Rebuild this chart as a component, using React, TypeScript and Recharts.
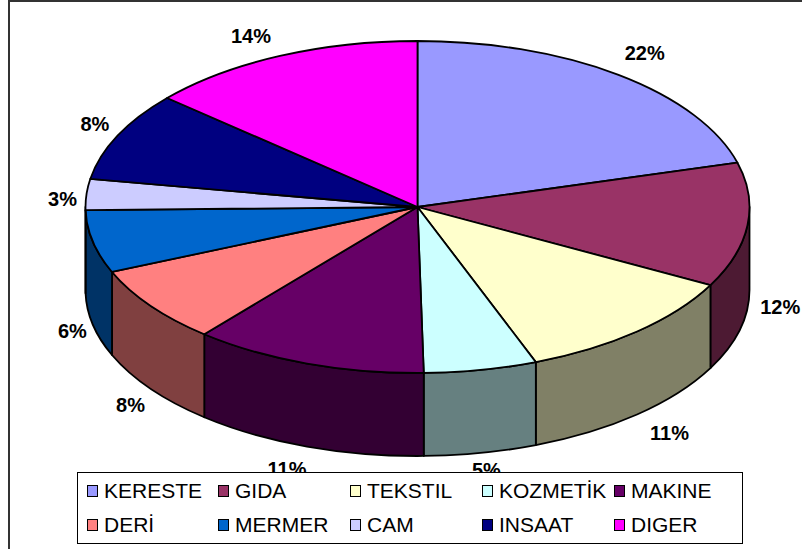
import { PieChart, Pie, Legend } from 'recharts'

const sectors = ['KERESTE', 'GIDA', 'TEKSTIL', 'KOZMETİK', 'MAKINE', 'DERİ', 'MERMER', 'CAM', 'INSAAT', 'DIGER']
const shares = [20.7, 12.1, 11.4, 5.5, 11.4, 7.5, 6.1, 3.0, 8.7, 13.6]
const percentLabels = ['22%', '12%', '11%', '5%', '11%', '8%', '6%', '3%', '8%', '14%']
const colors = ['#9999FF', '#993366', '#FFFFCC', '#CCFFFF', '#660066', '#FF8080', '#0066CC', '#CCCCFF', '#000080', '#FF00FF']

const data = sectors.map((name, i) => ({ name, value: shares[i], fill: colors[i] }))

const SQUASH = 0.5
const DEPTH = 83
const FONT = '"Liberation Sans", Arial, sans-serif'

// hand nudges for the percent labels, Excel doesn't place them on a clean ellipse
const labelNudgeX = [2, -7, 6, -2, -12, -1, 3, 0, -1, -19]
const labelNudgeY = [0, 0, 1, -6, 0, 3, 4, 7, 0, 6]

// half the brightness, the way the side of a 3D pie is shaded
function darken(hex: string) {
  const n = parseInt(hex.slice(1), 16)
  const c = [n >> 16, (n >> 8) & 255, n & 255].map((v) => Math.round(v / 2))
  return `rgb(${c[0]},${c[1]},${c[2]})`
}

function Slice(props: any) {
  const { cx, cy, outerRadius, startAngle, endAngle, fill } = props
  const rx = outerRadius
  const ry = outerRadius * SQUASH
  const pt = (deg: number, dy = 0) => {
    const r = (deg * Math.PI) / 180
    return `${cx + rx * Math.cos(r)} ${cy - ry * Math.sin(r) + dy}`
  }
  const large = startAngle - endAngle > 180 ? 1 : 0
  const top = `M ${cx} ${cy} L ${pt(startAngle)} A ${rx} ${ry} 0 ${large} 1 ${pt(endAngle)} Z`

  // only the part of the slice on the front half has a visible wall
  const from = Math.min(startAngle, 0)
  const to = Math.max(endAngle, -180)
  const wall =
    from > to
      ? `M ${pt(from)} A ${rx} ${ry} 0 0 1 ${pt(to)} L ${pt(to, DEPTH)} A ${rx} ${ry} 0 0 0 ${pt(from, DEPTH)} Z`
      : null

  return (
    <g>
      {wall && <path d={wall} fill={darken(fill)} stroke="#000" strokeWidth={1.8} strokeLinejoin="round" />}
      <path d={top} fill={fill} stroke="#000" strokeWidth={1.8} strokeLinejoin="round" />
    </g>
  )
}

function SliceLabel(props: any) {
  const { cx, cy, outerRadius, midAngle, index } = props
  const r = (midAngle * Math.PI) / 180
  const cos = Math.cos(r)
  const sin = Math.sin(r)
  const x = cx + (outerRadius + (cos > 0 ? 40 : 24)) * cos + labelNudgeX[index]
  const y = cy - (outerRadius * SQUASH + 28) * sin + (sin < 0 ? DEPTH - 4 : 0) + labelNudgeY[index]
  return (
    <text x={x} y={y} textAnchor="middle" dominantBaseline="central" fontFamily={FONT} fontSize={20} fontWeight="bold" fill="#000">
      {percentLabels[index]}
    </text>
  )
}

function LegendBox() {
  return (
    <div
      style={{
        display: 'grid',
        gridTemplateColumns: '131px 132px 132px 132px 120px',
        gridAutoRows: '34px',
        alignItems: 'center',
        boxSizing: 'border-box',
        width: 666,
        height: 72,
        padding: '0 0 0 9px',
        alignContent: 'center',
        background: '#fff',
        border: '1px solid #000',
        fontFamily: FONT,
        fontSize: 21,
        color: '#000',
      }}
    >
      {sectors.map((name, i) => (
        <div key={name} style={{ display: 'flex', alignItems: 'center', whiteSpace: 'nowrap' }}>
          <span style={{ width: 9, height: 10, marginRight: 6, border: '1px solid #000', background: colors[i] }} />
          {name}
        </div>
      ))}
    </div>
  )
}

export default function App() {
  return (
    <div style={{ position: 'absolute', left: 0, top: 0, width: 802, height: 549, background: '#fff', overflow: 'hidden' }}>
      <div style={{ position: 'absolute', left: 8, top: 0, width: 794, height: 549, boxSizing: 'border-box', borderLeft: '2px solid #333', borderTop: '2px solid #333' }} />
      <PieChart width={802} height={549} margin={{ top: 0, right: 0, bottom: 0, left: 0 }} style={{ position: 'absolute', left: 0, top: 0 }}>
        <Pie
          data={data}
          dataKey="value"
          nameKey="name"
          cx={417.5}
          cy={207}
          outerRadius={332}
          startAngle={90}
          endAngle={-270}
          stroke="#000"
          shape={Slice}
          label={SliceLabel}
          labelLine={false}
          isAnimationActive={false}
        />
        <Legend content={<LegendBox />} wrapperStyle={{ left: 77, top: 472, width: 666, height: 72, bottom: 'auto' }} />
      </PieChart>
    </div>
  )
}
